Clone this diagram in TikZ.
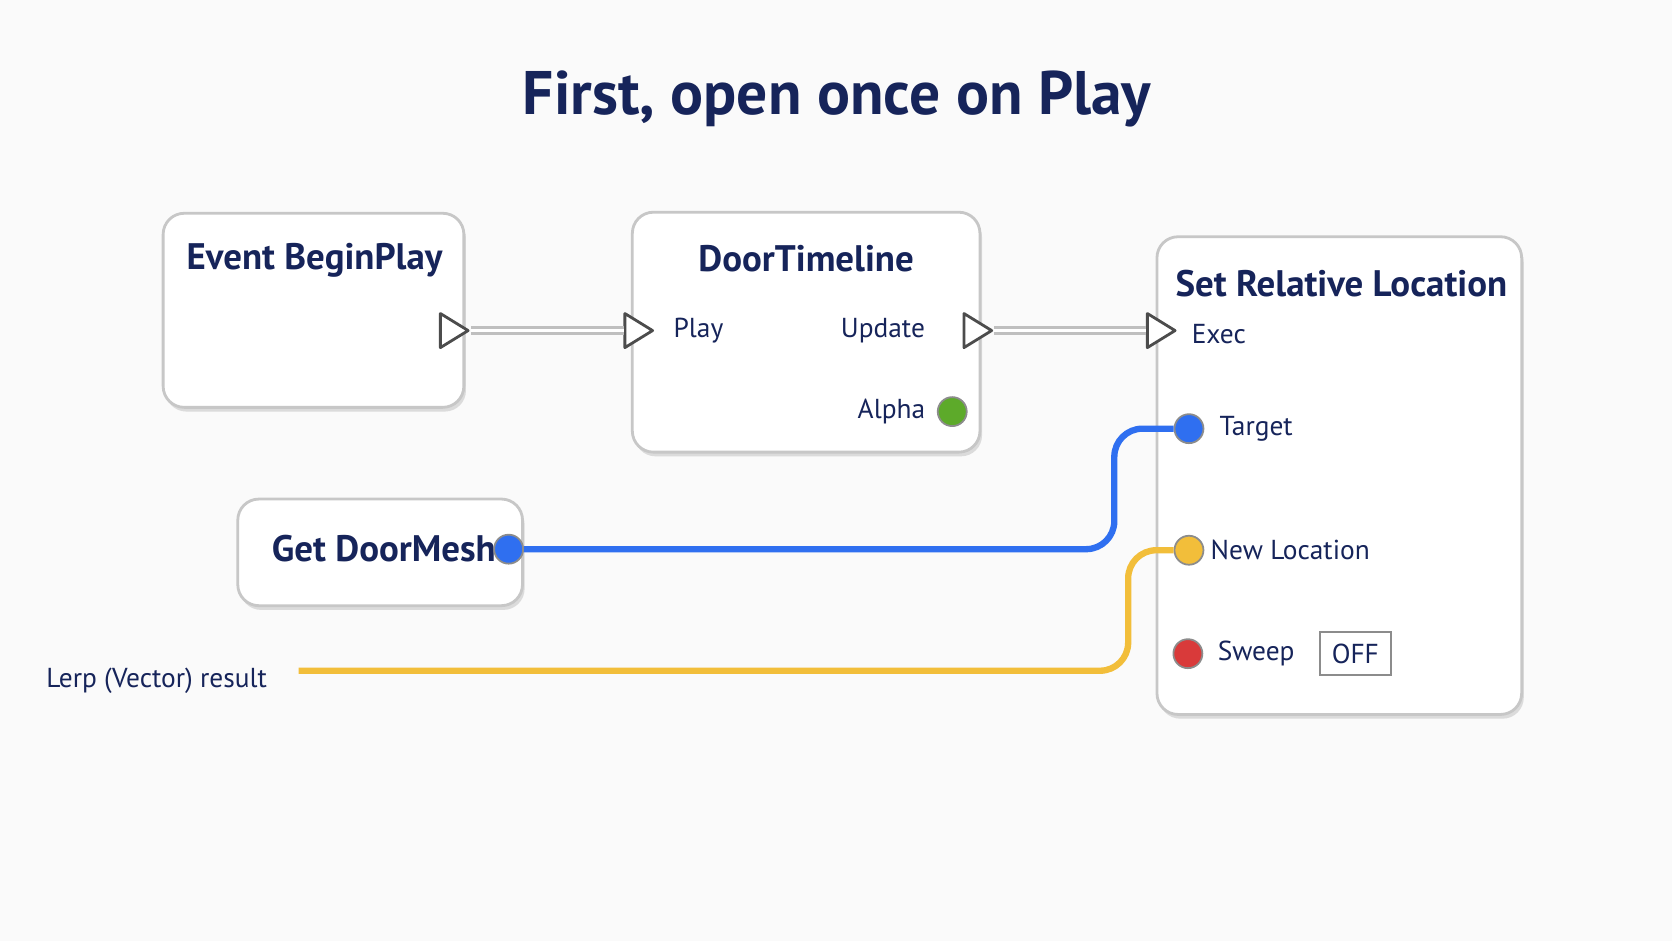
\documentclass[tikz,border=0pt]{standalone}
\usepackage{fontspec}
\setmainfont{PT Sans}
\usetikzlibrary{positioning,shadows}
\definecolor{navy}{HTML}{16245A}
\definecolor{pinblue}{HTML}{2F6FF0}
\definecolor{pinyellow}{HTML}{F2BE3A}
\definecolor{pingreen}{HTML}{5DAA2A}
\definecolor{pinred}{HTML}{D93A3A}
\begin{document}
\begin{tikzpicture}[x=0.010663cm, y=-0.010663cm]
    \tikzstyle{block} = [draw=black!22, line width=0.8pt, rounded corners=6pt, fill=white, drop shadow={shadow xshift=0.6pt, shadow yshift=-1.2pt, opacity=0.25}]
    \tikzstyle{heading} = [text=navy, font=\fontsize{10.5}{12}\selectfont\bfseries]
    \tikzstyle{pinlabel} = [text=navy, font=\fontsize{7.8}{9}\selectfont]
    \tikzstyle{exec} = [draw=black!70, fill=white, line width=0.8pt, line join=round]
    \tikzstyle{dot} = [circle, minimum size=0.29cm, inner sep=0pt, draw=black!45, line width=0.5pt]
    \tikzstyle{wire} = [line width=1.8pt, rounded corners=8pt]
    \useasboundingbox (0,0) rectangle (1568,882);
    \fill[black!2] (0,0) rectangle (1568,882);

    % Title
    \node[text=navy, font=\fontsize{17.5}{20}\selectfont\bfseries] (title) at (785,93) {First, open once on Play};

    % Blocks
    \draw[block] (153,200) rectangle (435,382);
    \node[heading] (beginplay) at (295,244) {Event BeginPlay};
    \draw[block] (593,199) rectangle (919,424);
    \node[heading] (timeline) at (756,243) {DoorTimeline};
    \draw[block] (1085,222) rectangle (1427,670);
    \node[heading] (setloc) at (1258,266) {Set Relative Location};
    \draw[block] (223,468) rectangle (490,568);
    \node[heading] (getmesh) at (360,514) {Get DoorMesh};

    % Exec pins
    \foreach \nm/\px in {bpout/425, playin/598, updout/916, execin/1088} {
        \draw[exec] (\px-12,294) -- (\px+14,310) -- (\px-12,326) -- cycle;
        \coordinate (\nm) at (\px,310);
    }

    % Pin labels
    \node[pinlabel] (playlbl) at (655,310) {Play};
    \node[pinlabel] (updlbl) at (828,310) {Update};
    \node[pinlabel] (alphalbl) at (836,386) {Alpha};
    \node[pinlabel] (execlbl) at (1143,313) {Exec};
    \node[pinlabel] (targetlbl) at (1178,402) {Target};
    \node[pinlabel] (newloclbl) at (1210,516) {New Location};
    \node[pinlabel] (sweeplbl) at (1178,613) {Sweep};
    \node[pinlabel, draw=black!45, line width=0.6pt, minimum width=0.68cm, minimum height=0.38cm] (off) at (1271,613) {OFF};
    \node[pinlabel, anchor=east] (lerp) at (262,638) {Lerp (Vector) result};
    \coordinate (lerpend) at (280,629);

    % Data pins
    \node[dot, fill=pingreen] (alpha) at (893,386) {};
    \node[dot, fill=pinblue] (target) at (1115,402) {};
    \node[dot, fill=pinyellow] (newloc) at (1115,516) {};
    \node[dot, fill=pinred] (sweep) at (1114,613) {};
    \node[dot, fill=pinblue] (meshout) at (477,515) {};

    % Wires
    \draw[black!25, line width=2.4pt] ([xshift=5pt]bpout) -- ([xshift=-4pt]playin);
    \draw[white, line width=0.8pt] ([xshift=5pt]bpout) -- ([xshift=-4pt]playin);
    \draw[black!25, line width=2.4pt] ([xshift=5pt]updout) -- ([xshift=-4pt]execin);
    \draw[white, line width=0.8pt] ([xshift=5pt]updout) -- ([xshift=-4pt]execin);
    \draw[wire, pinblue] (meshout) -- (1045,515) -- (1045,402) -- (target);
    \draw[wire, pinyellow] (lerpend) -- (1058,629) -- (1058,516) -- (newloc);
\end{tikzpicture}
\end{document}
